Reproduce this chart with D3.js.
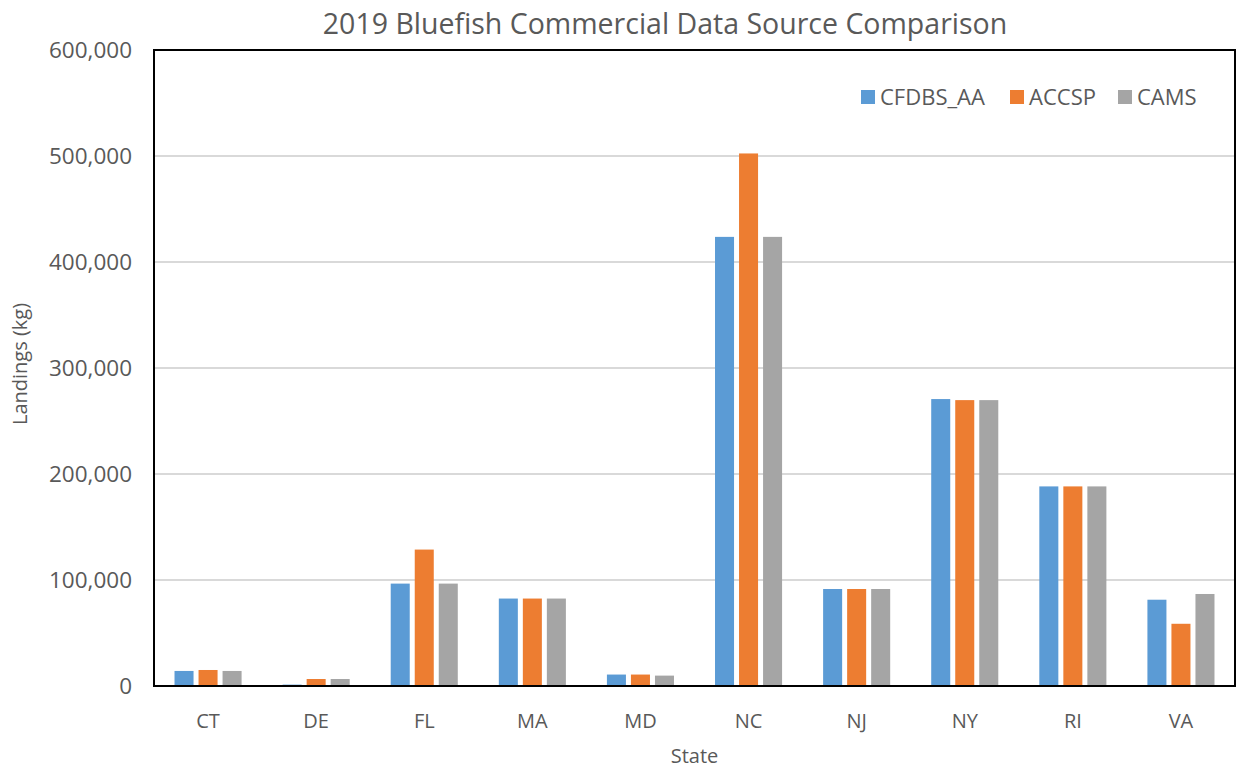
<!DOCTYPE html>
<html>
<head>
<meta charset="utf-8">
<script src="https://cdn.jsdelivr.net/npm/d3@7"></script>
<style>
  body { margin: 0; background: #fff; }
  svg text { font-family: "Open Sans", "Liberation Sans", sans-serif; fill: #595959; }
</style>
</head>
<body>
<div id="chart"></div>
<script>
// data
const states = ["CT", "DE", "FL", "MA", "MD", "NC", "NJ", "NY", "RI", "VA"];
const seriesNames = ["CFDBS_AA", "ACCSP", "CAMS"];
const cfdbsAA = [14200, 1300, 96600, 82500, 10800, 423700, 91500, 270700, 188300, 81400];
const accsp   = [15100, 6600, 128700, 82500, 10800, 502400, 91500, 269700, 188300, 58700];
const cams    = [14200, 6600, 96600, 82500, 9800, 423700, 91500, 269700, 188300, 86800];
const yTicks = [0, 100000, 200000, 300000, 400000, 500000, 600000];
const colors = ["#5b9bd5", "#ed7d31", "#a5a5a5"];

const values = [cfdbsAA, accsp, cams];

let width = 1240, height = 771;
let margin = {top: 50, right: 5, bottom: 85, left: 154};

let svg = d3.select("#chart").append("svg")
  .attr("width", width)
  .attr("height", height);

let innerW = width - margin.left - margin.right;
let innerH = height - margin.top - margin.bottom;

let g = svg.append("g").attr("transform", "translate(" + margin.left + "," + margin.top + ")");

let xScale = d3.scaleBand().domain(states).range([0, innerW]);
let slot = xScale.bandwidth() / 4.5;
let xInner = d3.scaleBand().domain(seriesNames).range([0, slot * 3]);
let groupOffset = (xScale.bandwidth() - slot * 3) / 2;

let yScale = d3.scaleLinear().domain([0, 600000]).range([innerH, 0]);

// gridlines
g.append("g").attr("class", "grid")
  .selectAll("line")
  .data(yTicks.filter(d => d > 0 && d < 600000))
  .enter().append("line")
  .attr("x1", 0).attr("x2", innerW)
  .attr("y1", d => yScale(d)).attr("y2", d => yScale(d))
  .attr("stroke", "#d9d9d9")
  .attr("stroke-width", 2);

// y axis labels
let yAxis = g.append("g")
  .call(d3.axisLeft(yScale).tickValues(yTicks).tickSize(0).tickPadding(22).tickFormat(d3.format(",")));
yAxis.select(".domain").remove();
yAxis.selectAll("text").style("font-size", "22.5px").attr("fill", "#595959");

// bars
seriesNames.forEach(function(name, i) {
  g.append("g").attr("class", "series")
    .selectAll("rect")
    .data(states.map((s, j) => ({state: s, v: values[i][j]})))
    .enter().append("rect")
    .attr("x", d => xScale(d.state) + groupOffset + xInner(name) + 2.5)
    .attr("width", xInner.bandwidth() - 5)
    .attr("y", d => yScale(d.v))
    .attr("height", d => innerH - yScale(d.v))
    .attr("fill", colors[i]);
});

// plot border
g.append("rect")
  .attr("x", 0).attr("y", 0)
  .attr("width", innerW).attr("height", innerH)
  .attr("fill", "none")
  .attr("stroke", "#000")
  .attr("stroke-width", 2);

// x axis labels
let xAxis = g.append("g")
  .attr("transform", "translate(0," + innerH + ")")
  .call(d3.axisBottom(xScale).tickSize(0).tickPadding(28));
xAxis.select(".domain").remove();
xAxis.selectAll("text").style("font-size", "20px").attr("fill", "#595959");

// titles
svg.append("text")
  .attr("x", 665).attr("y", 34)
  .attr("text-anchor", "middle")
  .style("font-size", "28.5px")
  .text("2019 Bluefish Commercial Data Source Comparison");

svg.append("text")
  .attr("x", margin.left + innerW / 2).attr("y", 763)
  .attr("text-anchor", "middle")
  .style("font-size", "20px")
  .text("State");

svg.append("text")
  .attr("transform", "translate(27," + (margin.top + innerH / 2 - 4) + ") rotate(-90)")
  .attr("text-anchor", "middle")
  .style("font-size", "20px")
  .text("Landings (kg)");

// legend
let legendX = [861, 1010, 1118];
let legend = svg.append("g").attr("class", "legend");
seriesNames.forEach(function(name, i) {
  legend.append("rect")
    .attr("x", legendX[i]).attr("y", 90)
    .attr("width", 14).attr("height", 14)
    .attr("fill", colors[i]);
  legend.append("text")
    .attr("x", legendX[i] + 19).attr("y", 105)
    .style("font-size", "22px")
    .text(name);
});
</script>
</body>
</html>
